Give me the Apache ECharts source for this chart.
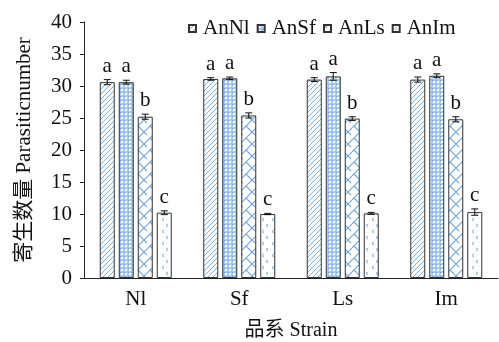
<!DOCTYPE html>
<html><head><meta charset="utf-8">
<script src="https://cdn.jsdelivr.net/npm/echarts@6/dist/echarts.min.js"></script>
<style>html,body{margin:0;padding:0;background:#fff}#c{width:499px;height:342px}</style>
</head><body><div id="c"></div>
<script>
const categories = ['Nl', 'Sf', 'Ls', 'Im'];
const seriesNames = ['AnNl', 'AnSf', 'AnLs', 'AnIm'];
const AnNl = [30.6, 31.1, 31.0, 31.0];
const AnSf = [30.6, 31.2, 31.5, 31.6];
const AnLs = [25.2, 25.4, 24.9, 24.8];
const AnIm = [10.2, 10.0, 10.1, 10.3];
const errAnNl = [0.4, 0.2, 0.3, 0.4];
const errAnSf = [0.3, 0.2, 0.6, 0.3];
const errAnLs = [0.4, 0.4, 0.3, 0.4];
const errAnIm = [0.3, 0.1, 0.15, 0.5];
const letters = ['a', 'a', 'b', 'c'];
const yTicks = [0, 5, 10, 15, 20, 25, 30, 35, 40];

const values = [AnNl, AnSf, AnLs, AnIm];
const errs = [errAnNl, errAnSf, errAnLs, errAnIm];
const BLUE = 'rgb(110,165,220)';
const SERIF = '"Liberation Serif", "Times New Roman", serif';

function mk(w, h, draw) {
  const c = document.createElement('canvas'); c.width = w; c.height = h;
  const g = c.getContext('2d'); g.fillStyle = '#ffffff'; g.fillRect(0, 0, w, h);
  g.strokeStyle = BLUE; g.fillStyle = BLUE; g.lineWidth = 0.9; draw(g); return c;
}
const patterns = [
  mk(5, 5, g => { g.beginPath(); g.moveTo(-1, 6); g.lineTo(6, -1); g.moveTo(-1, 1); g.lineTo(1, -1); g.moveTo(4, 6); g.lineTo(6, 4); g.stroke(); }),
  mk(4, 4, g => { g.fillStyle = 'rgb(165,202,238)'; g.fillRect(0, 0, 4, 4); g.fillStyle = '#fff'; g.fillRect(1, 1, 2, 2); g.fillStyle = 'rgb(105,160,218)'; g.fillRect(0, 0, 1, 1); }),
  mk(12, 12, g => { g.lineWidth = 1.1; g.beginPath();
    g.moveTo(0, 12); g.lineTo(12, 0);
    g.moveTo(6, 6); g.lineTo(12, 12);
    g.moveTo(0, 0); g.lineTo(3, 3);
    g.stroke(); }),
  mk(10, 12, g => { g.beginPath(); g.moveTo(4, 2); g.lineTo(2, 3.5); g.lineTo(4, 5); g.moveTo(8, 8); g.lineTo(6, 9.5); g.lineTo(8, 11); g.stroke(); })
];

const barW = 15, gap = 4;
const offsets = [0, 1, 2, 3].map(i => -(4 * barW + 3 * gap) / 2 + i * (barW + gap) + barW / 2);

const series = seriesNames.map((n, i) => ({
  name: n, type: 'bar', data: values[i], barWidth: barW, barGap: (gap / barW * 100) + '%',
  itemStyle: { color: { image: patterns[i], repeat: 'repeat' }, borderColor: '#333', borderWidth: 1 }
}));

const errData = [];
for (let s = 0; s < 4; s++) for (let c = 0; c < 4; c++) errData.push([c, values[s][c], errs[s][c], s]);
series.push({
  type: 'custom', name: 'err', data: errData, z: 10, silent: true,
  renderItem: (params, api) => {
    const c = api.value(0), v = api.value(1), e = api.value(2), s = api.value(3);
    const base = api.coord([c, v]);
    const x = base[0] + offsets[s];
    const top = api.coord([c, v + e])[1], bot = api.coord([c, v - e])[1];
    const st = { stroke: '#111', lineWidth: 1 };
    return { type: 'group', children: [
      { type: 'line', shape: { x1: x, y1: top, x2: x, y2: bot }, style: st },
      { type: 'line', shape: { x1: x - 3.5, y1: top, x2: x + 3.5, y2: top }, style: st },
      { type: 'line', shape: { x1: x - 3.5, y1: bot, x2: x + 3.5, y2: bot }, style: st },
      { type: 'text', x: x, y: top - 3, style: { text: letters[s], font: '21px ' + SERIF, fill: '#111', textAlign: 'center', textVerticalAlign: 'bottom' } }
    ]};
  }
});

const chart = echarts.init(document.getElementById('c'));
chart.setOption({
  animation: false,
  textStyle: { fontFamily: SERIF },
  grid: { left: 84, right: 1, top: 22, bottom: 64, containLabel: false, outerBoundsMode: 'none' },
  legend: {
    data: seriesNames, top: 13, left: 183, itemWidth: 7, itemHeight: 7, itemGap: 7,
    icon: 'rect', textStyle: { fontFamily: SERIF, fontSize: 21, color: '#111', padding: [0, 0, 0, 2] }
  },
  xAxis: {
    type: 'category', data: categories,
    axisLine: { lineStyle: { color: '#222', width: 1 } }, axisTick: { show: false },
    axisLabel: { fontFamily: SERIF, fontSize: 21, color: '#111', margin: 11 },
    name: '品系 Strain', nameLocation: 'middle', nameGap: 43,
    nameTextStyle: { fontFamily: SERIF + ', "Noto Sans CJK SC"', fontSize: 20, color: '#111' }
  },
  yAxis: {
    type: 'value', min: yTicks[0], max: yTicks[yTicks.length - 1], interval: 5,
    axisLine: { show: true, lineStyle: { color: '#222', width: 1 } },
    axisTick: { show: true, inside: false, length: 4, lineStyle: { color: '#222' } },
    splitLine: { show: false },
    axisLabel: { fontFamily: SERIF, fontSize: 21, color: '#111', margin: 12 },
    name: '寄生数量 Parasiticnumber', nameLocation: 'middle', nameGap: 49,
    nameTextStyle: { fontFamily: SERIF + ', "Noto Sans CJK SC"', fontSize: 21, color: '#111' }
  },
  series: series
});
</script></body></html>
